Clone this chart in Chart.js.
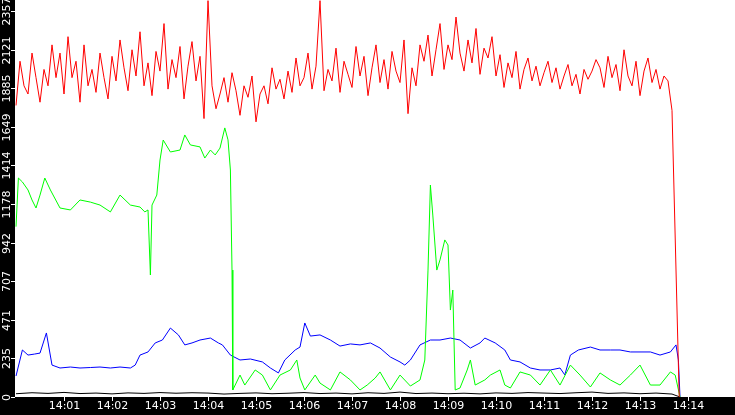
<!DOCTYPE html>
<html><head><meta charset="utf-8">
<script src="https://cdn.jsdelivr.net/npm/chart.js@4/dist/chart.umd.min.js"></script>
<style>html,body{margin:0;padding:0;background:#000}#w{width:735px;height:415px}</style>
</head><body><div id="w"><canvas id="c"></canvas></div>
<script>
const xTickSeconds=[60,120,180,240,300,360,420,480,540,600,660,720,780,840];
const xTickLabels=["14:01","14:02","14:03","14:04","14:05","14:06","14:07","14:08","14:09","14:10","14:11","14:12","14:13","14:14"];
const yTickValues=[0,235.7,471.4,707.1,942.8,1178.5,1414.2,1649.9,1885.6,2121.3,2357];
const yTickLabels=["0","235","471","707","942","1178","1414","1649","1885","2121","2357"];

const redValues=[1780,2050,1900,1850,2100,1950,1800,2000,1900,2150,1950,2100,
1850,2200,1950,2050,1800,2150,1900,2000,1860,2100,1950,1820,
2080,1930,2180,2010,1870,2120,1960,2230,1900,2040,1840,2110,
1990,2280,1880,2060,1950,2140,1820,2020,2170,1930,2080,1700,
2420,1900,1760,1850,1950,1800,1980,1870,1720,1900,1830,1960,
1680,1850,1900,1790,2010,1880,1940,1820,1990,1860,2070,1900,
1950,2100,1880,2020,2420,1870,2000,1930,2130,1860,2050,1970,
1890,2140,1960,2080,1840,2010,2150,1920,2060,1880,2110,1990,
1920,2180,1730,2010,1900,2150,2050,2210,1960,2120,2280,2000,
2150,2060,2320,2100,1990,2180,2040,2250,1970,2130,2070,2200,
1960,2090,1890,2040,1950,2110,1880,2000,2070,1930,2020,1900,
1980,2050,1920,2010,1880,1960,2030,1900,1970,1850,2000,1940,
1990,2060,2010,1890,2080,1950,2030,1870,2120,1960,1900,2050,
1840,1990,2070,1920,2000,1880,1960,1930,1750];

const blueTimes=[0,8,15,23,30,38,45,55,68,80,93,105,118,130,143,149,155,165,174,183,193,203,211,220,230,243,253,258,268,280,293,308,318,328,336,349,355,361,368,380,393,405,418,430,443,455,468,480,486,493,505,518,530,543,555,568,580,586,599,611,618,630,643,655,668,680,686,693,703,718,730,743,755,768,780,793,805,818,825,828,830];
const blueValues=[128,287,256,262,268,391,195,177,183,177,180,183,177,183,177,195,256,275,330,348,421,379,318,330,348,360,330,318,256,226,232,214,177,147,226,287,305,452,372,379,348,311,324,318,330,299,244,214,195,226,318,348,348,360,348,299,330,360,330,287,226,214,177,165,165,177,135,256,287,305,287,287,287,275,275,275,256,275,318,226,0];

const greenTimes=[0,3,8,15,20,25,30,36,43,55,68,80,93,105,118,130,143,155,161,165,168,170,176,180,184,193,205,211,218,230,236,243,249,255,261,265,268,270,271,274,280,286,299,308,318,330,343,351,355,361,374,380,393,405,418,430,439,449,455,468,480,493,505,511,515,518,521,526,530,536,540,543,546,549,555,564,568,574,586,593,605,611,618,630,643,655,668,680,693,705,718,730,743,755,768,780,793,805,818,824,830];
const greenValues=[1040,1337,1313,1264,1203,1154,1233,1337,1264,1154,1142,1203,1190,1172,1130,1233,1172,1160,1130,1142,745,1172,1233,1447,1569,1496,1508,1600,1539,1527,1459,1508,1478,1520,1643,1570,1386,775,43,73,134,73,165,134,43,134,165,226,116,43,134,85,43,153,104,43,73,116,153,43,134,67,104,226,775,1294,1111,775,837,959,928,531,653,43,55,165,226,73,104,134,165,73,55,153,134,73,165,73,195,134,61,147,104,73,134,195,73,73,153,134,0];

const blackTimes=[0,20,40,60,80,100,120,140,160,180,200,220,240,260,280,300,320,340,360,380,400,420,440,460,480,500,520,540,560,580,600,620,640,660,680,700,720,740,760,780,800,820,830];
const blackValues=[20,26,22,28,21,24,19,25,22,27,23,26,24,18,22,25,20,23,27,21,24,19,26,22,30,21,24,20,23,19,25,22,27,24,21,26,30,22,25,20,24,18,0];

const redTimes=redValues.map((_,i)=>i*5);
function pts(t,v){return t.map((x,i)=>({x:x,y:v[i]}));}
const rp=pts(redTimes,redValues); rp.push({x:829,y:0});

const deco={id:'deco',
 beforeDraw(ch){const c=ch.ctx,a=ch.chartArea;c.save();c.fillStyle='#000';c.fillRect(0,0,ch.width,ch.height);c.fillStyle='#fff';c.fillRect(a.left,a.top,a.right-a.left,a.bottom-a.top);c.restore();},
 afterDraw(ch){const c=ch.ctx,a=ch.chartArea,xs=ch.scales.x,ys=ch.scales.y;c.save();
  c.strokeStyle='#fff';c.fillStyle='#fff';c.lineWidth=1;c.font='11px "DejaVu Sans"';
  c.textAlign='center';c.textBaseline='top';
  xTickSeconds.forEach((s,i)=>{const x=Math.round(xs.getPixelForValue(s))+0.5;c.beginPath();c.moveTo(x,a.bottom);c.lineTo(x,a.bottom+4);c.stroke();c.fillText(xTickLabels[i],x,a.bottom+4);});
  yTickValues.forEach((v,i)=>{const y=Math.round(ys.getPixelForValue(v))+0.5;c.beginPath();c.moveTo(a.left-4,y);c.lineTo(a.left,y);c.stroke();
   c.save();c.translate(7,y);c.rotate(-Math.PI/2);c.textAlign='center';c.textBaseline='middle';c.fillText(yTickLabels[i],0,0);c.restore();});
  c.restore();}};

new Chart(document.getElementById('c'),{type:'line',
 data:{datasets:[
  {data:rp,borderColor:'#ff0000'},
  {data:pts(greenTimes,greenValues),borderColor:'#00ff00'},
  {data:pts(blueTimes,blueValues),borderColor:'#0000ff'},
  {data:pts(blackTimes,blackValues),borderColor:'#000000'}]},
 options:{responsive:true,maintainAspectRatio:false,animation:false,
  layout:{padding:{left:15,bottom:18,top:0,right:0}},
  elements:{point:{radius:0},line:{borderWidth:1,tension:0}},
  plugins:{legend:{display:false},tooltip:{enabled:false}},
  scales:{x:{type:'linear',min:-1.25,max:898.75,display:false},
          y:{min:0,max:2424,display:false}}},
 plugins:[deco]});
</script></body></html>
